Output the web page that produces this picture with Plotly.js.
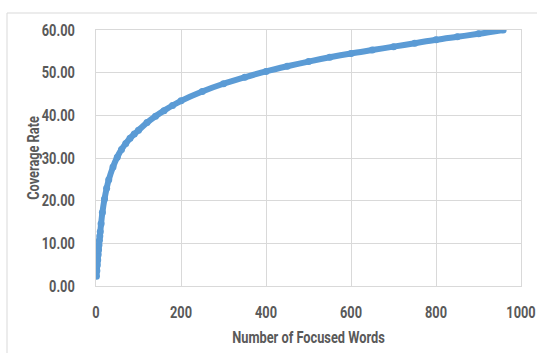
<!DOCTYPE html>
<html>
<head>
<meta charset="utf-8">
<script src="https://cdn.plot.ly/plotly-3.0.1.min.js"></script>
<style>html,body{margin:0;padding:0;background:#fff;}#chart{width:537px;height:353px;}</style>
</head>
<body>
<div id="chart"></div>
<script>
// Number of focused words (x) and coverage rate (y)
const focusedWords = [1, 2, 3, 4, 5, 6, 7, 8, 9, 10, 12, 15, 20, 25, 30, 40, 50, 60, 70, 80, 90, 100,
  120, 140, 160, 180, 200, 250, 300, 350, 400, 450, 500, 550, 600, 650, 700, 750, 800, 850, 900, 958];
const coverageRate = [2.3, 3.6, 4.9, 6.1, 7.3, 8.5, 9.6, 10.7, 11.7, 12.7, 14.6, 17.2, 20.4, 22.9, 24.9, 27.9, 30.2, 32.0, 33.4, 34.6, 35.6, 36.5,
  38.3, 39.8, 41.1, 42.3, 43.4, 45.6, 47.4, 48.9, 50.3, 51.5, 52.6, 53.6, 54.5, 55.3, 56.1, 56.9, 57.7, 58.4, 59.1, 60.0];
const xTicks = [0, 200, 400, 600, 800, 1000];
const yTicks = [0, 10, 20, 30, 40, 50, 60];
const xTitle = 'Number of Focused Words';
const yTitle = 'Coverage Rate';

const fontFam = 'Roboto, "Liberation Sans", sans-serif';
const grey = '#595959';
const gridC = '#D9D9D9';
const squeeze = 0.8;

const trace = {
  x: focusedWords, y: coverageRate, type: 'scatter', mode: 'lines+markers',
  line: {color: '#5B9BD5', width: 6, shape: 'spline'},
  marker: {color: '#5B9BD5', size: 7},
  hoverinfo: 'skip'
};

const tf = {family: fontFam, size: 16, color: grey, weight: 'bold'};

const layout = {
  width: 537, height: 353,
  margin: {l: 96, r: 16, t: 30, b: 67},
  paper_bgcolor: '#fff', plot_bgcolor: '#fff',
  showlegend: false,
  font: {family: fontFam, color: grey, size: 16},
  xaxis: {
    range: [0, 1000], tickvals: xTicks, ticktext: xTicks.map(String),
    showgrid: true, gridcolor: gridC, gridwidth: 1, zeroline: false,
    showline: true, linecolor: gridC, linewidth: 1, mirror: true,
    ticks: '', ticklabelstandoff: 12, ticklabeloverflow: 'allow',
    tickfont: tf,
    title: {text: xTitle, standoff: 10, font: tf},
    automargin: false, fixedrange: true
  },
  yaxis: {
    range: [0, 60], tickvals: yTicks, ticktext: yTicks.map(v => v.toFixed(2)),
    showgrid: true, gridcolor: gridC, gridwidth: 1, zeroline: false,
    showline: true, linecolor: gridC, linewidth: 1, mirror: true,
    ticks: '', ticklabelstandoff: 17, ticklabeloverflow: 'allow',
    tickfont: tf,
    title: {text: yTitle, standoff: 0, font: tf},
    automargin: false, fixedrange: true
  },
  shapes: [{
    type: 'rect', xref: 'paper', yref: 'paper',
    x0: (7 - 96) / 425, x1: (545 - 96) / 425,
    y0: (286 - 360) / 256, y1: (286 - 13) / 256,
    line: {color: gridC, width: 1}, fillcolor: 'rgba(0,0,0,0)', layer: 'below'
  }]
};

Plotly.newPlot('chart', [trace], layout, {staticPlot: true, displayModeBar: false}).then(gd => {
  // condense the lettering horizontally (the reference uses a condensed face)
  gd.querySelectorAll('.xtick text, .ytick text, .g-xtitle text, .g-ytitle text').forEach(t => {
    const x = parseFloat(t.getAttribute('x')) || 0;
    const y = parseFloat(t.getAttribute('y')) || 0;
    const prev = t.getAttribute('transform') || '';
    const shift = t.closest('.g-ytitle') ? 'translate(11,0) ' : '';
    t.setAttribute('transform', shift + prev + ` translate(${x},${y}) scale(${squeeze},1) translate(${-x},${-y})`);
  });
});
</script>
</body>
</html>
